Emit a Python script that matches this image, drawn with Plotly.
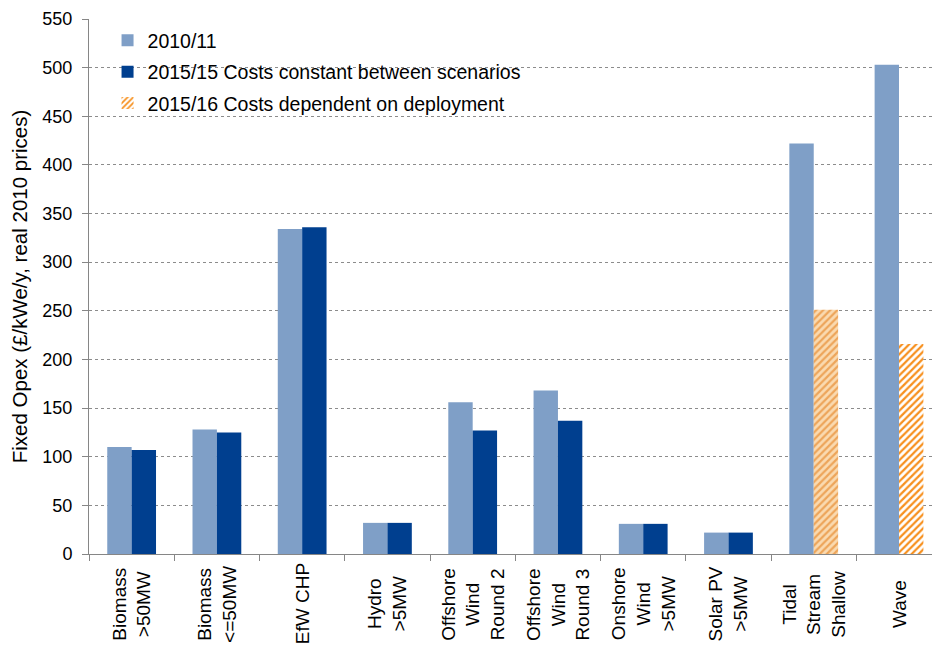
import plotly.graph_objects as go

categories = ["Biomass >50MW", "Biomass <=50MW", "EfW CHP", "Hydro >5MW",
              "Offshore Wind Round 2", "Offshore Wind Round 3", "Onshore Wind >5MW",
              "Solar PV >5MW", "Tidal Stream Shallow", "Wave"]
tick_labels = ["Biomass<br>>50MW", "Biomass<br>&lt;=50MW", "EfW CHP", "Hydro<br>>5MW",
               "Offshore<br>Wind<br>Round 2", "Offshore<br>Wind<br>Round 3",
               "Onshore<br>Wind<br>>5MW", "Solar PV<br>>5MW", "Tidal<br>Stream<br>Shallow", "Wave"]
opex_2010 = [110, 128, 334, 32, 156, 168, 31, 22, 422, 503]
opex_2015_constant = [107, 125, 336, 32, 127, 137, 31, 22, None, None]
opex_2015_deployment = [None, None, None, None, None, None, None, None, 251, 216]

LIGHT = "#7F9FC7"
DARK = "#003F8F"
AXIS = "#868686"
FONT = "Liberation Sans, Arial, sans-serif"

fig = go.Figure()
fig.add_trace(go.Bar(
    x=categories, y=opex_2010, name="2010/11",
    marker=dict(color=LIGHT, line=dict(width=0)),
    offsetgroup="a", legendgroup="a",
))
fig.add_trace(go.Bar(
    x=categories, y=opex_2015_constant, name="2015/15 Costs constant between scenarios",
    marker=dict(color=DARK, line=dict(width=0)),
    offsetgroup="b", legendgroup="b",
))
fig.add_trace(go.Bar(
    x=categories, y=opex_2015_deployment, name="2015/16 Costs dependent on deployment",
    marker=dict(
        color="white", line=dict(width=0),
        pattern=dict(shape="/", size=5, solidity=0.45,
                     fgcolor=["#F7901E"] * 8 + ["#EDA55A", "#F7901E"],
                     bgcolor=["white"] * 8 + ["#FADAB0", "white"],
                     fillmode="replace"),
    ),
    offsetgroup="b", legendgroup="c",
))

# category labels drawn as rotated, centre-aligned text blocks under each group
for cat, label in zip(categories, tick_labels):
    fig.add_annotation(
        x=cat, y=0, xref="x", yref="paper",
        text=label, textangle=-90, align="center",
        xanchor="center", yanchor="middle", yshift=-50,
        showarrow=False, font=dict(family=FONT, size=19, color="#000000"),
    )

# white panel behind the legend, hiding the gridlines there
fig.add_shape(
    type="rect", xref="paper", yref="paper", layer="between",
    x0=0.022, x1=0.523, y0=0.81, y1=0.995,
    fillcolor="white", line=dict(width=0),
)

fig.update_layout(
    width=932, height=646,
    margin=dict(l=89, r=0, t=19, b=92, autoexpand=False),
    plot_bgcolor="white", paper_bgcolor="white",
    barmode="group", bargap=0.428, bargroupgap=0,
    font=dict(family=FONT, size=18, color="#000000"),
    showlegend=True,
    legend=dict(
        x=0.022, y=0.996, xanchor="left", yanchor="top",
        bgcolor="rgba(0,0,0,0)", borderwidth=0,
        font=dict(family=FONT, size=19.5),
        traceorder="grouped", tracegroupgap=3,
        itemwidth=30,
    ),
    xaxis=dict(
        type="category", range=[-0.5, 9.387],
        tickmode="array", tickvals=categories, ticktext=[""] * len(categories),
        tickson="boundaries", ticks="outside", ticklen=6,
        tickcolor=AXIS, showline=True, linecolor=AXIS, linewidth=1,
        showgrid=False, automargin=False,
    ),
    yaxis=dict(
        range=[0, 550], dtick=50, tick0=0, ticks="outside", ticklen=6,
        tickcolor=AXIS, showline=True, linecolor=AXIS, linewidth=1,
        showgrid=True, gridcolor="#8C8C8C", griddash="dot", gridwidth=1,
        zeroline=False, tickfont=dict(family=FONT, size=18), automargin=False,
        ticklabelstandoff=6,
        title=dict(text="Fixed Opex (£/kWe/y, real 2010 prices)",
                   font=dict(family=FONT, size=20.5), standoff=9),
    ),
)

fig.write_html("out.html")
